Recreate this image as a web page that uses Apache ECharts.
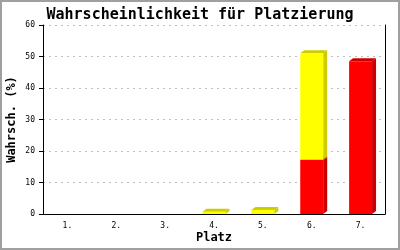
<!DOCTYPE html>
<html><head><meta charset="utf-8">
<script src="https://cdn.jsdelivr.net/npm/echarts@6/dist/echarts.min.js"></script>
<style>html,body{margin:0;padding:0;background:#fff}#c{width:400px;height:250px}</style>
</head><body><div id="c"></div>
<script>
const categories = ['1.','2.','3.','4.','5.','6.','7.'];
const redValues = [0,0,0,0,0,17.2,48.5];
const yellowValues = [0,0,0,0.7,1.3,33.8,0];
const yTicks = [0,10,20,30,40,50,60];

const font = 'DejaVu Sans Mono';
const redData = categories.map((c,i)=>[i,0,redValues[i]]);
const yellowData = categories.map((c,i)=>[i,redValues[i],redValues[i]+yellowValues[i]]);

function make3D(front, side){
  return function(params, api){
    const idx = api.value(0), lo = api.value(1), hi = api.value(2);
    if (hi - lo <= 0) return;
    const p0 = api.coord([idx, lo]);
    const p1 = api.coord([idx, hi]);
    const bw = api.size([1,0])[0]*0.47;
    const x = p0[0]-bw/2, yb = p0[1], yt = p1[1];
    const dx = 4, dy = 3;
    return {type:'group', children:[
      {type:'polygon', shape:{points:[[x+bw,yb],[x+bw+dx,yb-dy],[x+bw+dx,yt-dy],[x+bw,yt]]}, style:{fill:side}},
      {type:'polygon', shape:{points:[[x,yt],[x+dx,yt-dy],[x+bw+dx,yt-dy],[x+bw,yt]]}, style:{fill:side}},
      {type:'rect', shape:{x:x,y:yt,width:bw,height:yb-yt}, style:{fill:front}}
    ]};
  };
}

const chart = echarts.init(document.getElementById('c'), null, {renderer:'canvas'});
chart.setOption({
  animation:false,
  backgroundColor:'#fff',
  title:{text:'Wahrscheinlichkeit für Platzierung', left:'center', top:3,
    textStyle:{fontFamily:font, fontWeight:'bold', fontSize:15, color:'#000'}},
  grid:{left:43, right:15, top:25, bottom:36, containLabel:false, outerBoundsMode:'none'},
  xAxis:{type:'category', data:categories, name:'Platz', nameLocation:'middle', nameGap:18, nameMoveOverlap:false,
    nameTextStyle:{fontFamily:font, fontWeight:'bold', fontSize:12, color:'#000'},
    axisLine:{lineStyle:{color:'#000', width:1}}, axisTick:{show:false},
    axisLabel:{fontFamily:font, fontSize:8, color:'#000', margin:8}},
  yAxis:[{type:'value', min:0, max:60, interval:10, name:'Wahrsch. (%)', nameLocation:'middle', nameGap:25, nameMoveOverlap:false,
    nameTextStyle:{fontFamily:font, fontWeight:'bold', fontSize:12, color:'#000'},
    axisLine:{show:true, lineStyle:{color:'#000'}}, axisTick:{show:true, length:4, lineStyle:{color:'#000'}},
    axisLabel:{fontFamily:font, fontSize:8, color:'#000', margin:8},
    splitLine:{show:true, lineStyle:{color:'#c0c0c0', type:[2,4]}}},
   {type:'value', min:0, max:60, interval:10, position:'right',
    axisLine:{show:true, lineStyle:{color:'#000'}}, axisTick:{show:false}, axisLabel:{show:false}, splitLine:{show:false}}],
  graphic:[{type:'rect', shape:{x:1,y:1,width:398,height:248}, style:{fill:null, stroke:'#a0a0a0', lineWidth:2}, silent:true, z:100}],
  series:[
    {type:'custom', data:redData, encode:{x:0,y:[1,2]}, renderItem:make3D('#ff0000','#cc0000'), z:2},
    {type:'custom', data:yellowData, encode:{x:0,y:[1,2]}, renderItem:make3D('#ffff00','#cccc00'), z:3}
  ]
});
</script></body></html>
